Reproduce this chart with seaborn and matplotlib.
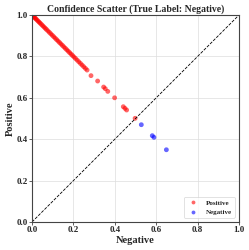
import matplotlib
matplotlib.use("Agg")
import matplotlib.pyplot as plt
import seaborn as sns
import pandas as pd

pos_neg = [0.000, 0.003, 0.006, 0.009, 0.012, 0.016, 0.020, 0.025, 0.030, 0.035,
           0.040, 0.046, 0.052, 0.058, 0.064, 0.070, 0.077, 0.084, 0.091, 0.098,
           0.105, 0.112, 0.119, 0.126, 0.133, 0.140, 0.147, 0.154, 0.161, 0.168,
           0.175, 0.182, 0.189, 0.196, 0.203, 0.210, 0.218, 0.226, 0.234, 0.242,
           0.250, 0.258, 0.266, 0.285, 0.317, 0.346, 0.354, 0.366, 0.399, 0.441,
           0.449, 0.457, 0.498]
pos_pos = [1.000, 0.997, 0.994, 0.991, 0.988, 0.984, 0.980, 0.975, 0.970, 0.965,
           0.960, 0.954, 0.948, 0.942, 0.936, 0.930, 0.923, 0.916, 0.909, 0.902,
           0.895, 0.888, 0.881, 0.874, 0.867, 0.860, 0.853, 0.846, 0.839, 0.832,
           0.825, 0.818, 0.811, 0.804, 0.797, 0.790, 0.782, 0.774, 0.766, 0.758,
           0.750, 0.742, 0.734, 0.707, 0.681, 0.652, 0.644, 0.631, 0.600, 0.557,
           0.549, 0.541, 0.501]
neg_neg = [0.528, 0.581, 0.589, 0.649]
neg_pos = [0.470, 0.417, 0.409, 0.349]

df = pd.DataFrame({
    "Negative": pos_neg + neg_neg,
    "Positive": pos_pos + neg_pos,
    "label": ["Positive"] * len(pos_neg) + ["Negative"] * len(neg_neg),
})

sns.set_style("whitegrid")
plt.rcParams["font.family"] = ["Liberation Serif", "DejaVu Serif"]
plt.rcParams["font.weight"] = "bold"

fig = plt.figure(figsize=(2.49, 2.50), dpi=100)
ax = fig.add_axes([0.1285, 0.112, 0.8315, 0.828])
sns.scatterplot(data=df, x="Negative", y="Positive", hue="label",
                palette={"Positive": "red", "Negative": "blue"},
                alpha=0.6, s=12, edgecolor="none", ax=ax)
ax.plot([0, 1], [0, 1], color="black", linestyle="--", linewidth=0.6)
ax.set_xlim(0, 1)
ax.set_ylim(0, 1)
ax.set_xticks([0, 0.2, 0.4, 0.6, 0.8, 1.0])
ax.set_yticks([0, 0.2, 0.4, 0.6, 0.8, 1.0])
ax.tick_params(labelsize=6.5, length=2, width=0.6, pad=1, color="#444444",
               bottom=True, left=True)
for lab in ax.get_xticklabels() + ax.get_yticklabels():
    lab.set_fontweight("bold")
ax.grid(True, color="#dddddd", linestyle="-", linewidth=0.5)
for sp in ax.spines.values():
    sp.set_color("#444444")
    sp.set_linewidth(0.8)
ax.set_xlabel("Negative", fontsize=7.5, fontweight="bold", labelpad=1)
ax.set_ylabel("Positive", fontsize=7.5, fontweight="bold", labelpad=1)
ax.set_title("Confidence Scatter (True Label: Negative)", fontsize=7,
             fontweight="bold", pad=2)
leg = ax.legend(loc="lower right", fontsize=5, markerscale=0.8,
                frameon=True, title=None, borderaxespad=0.6)
leg.get_frame().set_linewidth(0.5)
for t in leg.get_texts():
    t.set_fontweight("bold")
fig.savefig("out.png", dpi=100)
